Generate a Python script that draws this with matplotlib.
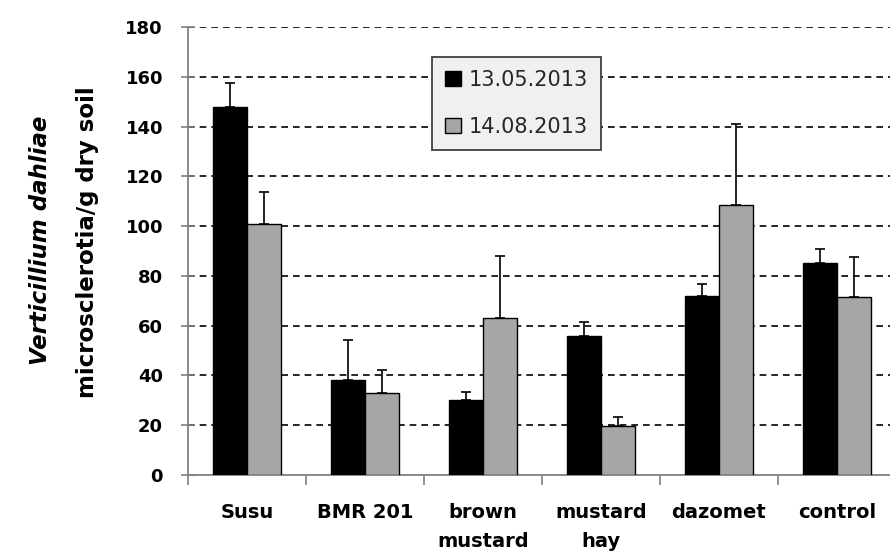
import numpy as np
import matplotlib.pyplot as plt
from matplotlib.patches import Patch

# soil sampling data: V. dahliae microsclerotia per g dry soil
treatments = ["Susu", "BMR 201", "brown\nmustard", "mustard\nhay", "dazomet", "control"]
may_2013 = [148, 38, 30, 56, 72, 85]
may_2013_err = [9.5, 16.3, 3.5, 5.4, 4.7, 6.0]
aug_2013 = [101, 33, 63, 19.5, 108.5, 71.5]
aug_2013_err = [12.5, 9.0, 24.8, 4.0, 32.5, 16.0]
series_labels = ["13.05.2013", "14.08.2013"]

plt.rcParams['font.family'] = ['DejaVu Sans']

fig = plt.figure(figsize=(8.9, 5.54), dpi=100)
ax = fig.add_axes([0.2112, 0.1426, 0.7955, 0.8087])

x = np.arange(len(treatments))
w = 0.29
ax.bar(x - w/2, may_2013, w, color='black', edgecolor='black', linewidth=1, zorder=3)
ax.bar(x + w/2, aug_2013, w, color='#a6a6a6', edgecolor='black', linewidth=1, zorder=3)
ax.errorbar(x - w/2, may_2013, yerr=[np.zeros(len(x)), may_2013_err], fmt='none',
            ecolor='black', elinewidth=1.2, capsize=3.5, capthick=1.2, zorder=4)
ax.errorbar(x + w/2, aug_2013, yerr=[np.zeros(len(x)), aug_2013_err], fmt='none',
            ecolor='black', elinewidth=1.2, capsize=3.5, capthick=1.2, zorder=4)

ax.set_xlim(-0.5, len(x) - 0.5)
ax.set_ylim(0, 180)
ax.set_yticks(np.arange(0, 181, 20))
for yv in np.arange(20, 181, 20):
    ax.axhline(yv, color='black', linestyle=(0, (4, 3)), linewidth=1.2, zorder=1)

# category labels centred, tick marks on the boundaries
ax.set_xticks(x)
ax.set_xticklabels(treatments, fontsize=14, fontweight='bold', linespacing=1.7)
ax.tick_params(axis='x', length=0, pad=20)
ax.set_xticks(np.arange(-0.5, len(x), 1), minor=True)
ax.tick_params(axis='x', which='minor', length=7, color='#808080', width=1.2)
ax.tick_params(axis='y', labelsize=13, length=10, color='#808080', width=1.2,
               direction='inout', pad=13)
for lab in ax.get_yticklabels():
    lab.set_fontweight('bold')

for s in ['top', 'right']:
    ax.spines[s].set_visible(False)
for s in ['left', 'bottom']:
    ax.spines[s].set_color('#808080')
    ax.spines[s].set_linewidth(1.3)

fig.text(0.045, 0.567, "Verticillium dahliae", rotation=90, ha='center', va='center',
         fontsize=16.5, fontweight='bold', fontstyle='italic')
fig.text(0.098, 0.563, "microsclerotia/g dry soil", rotation=90, ha='center', va='center',
         fontsize=16.5, fontweight='bold')

handles = [Patch(facecolor='black', edgecolor='black'),
           Patch(facecolor='#a6a6a6', edgecolor='black')]
leg = ax.legend(handles, series_labels, loc='upper left', bbox_to_anchor=(0.345, 0.933),
                fontsize=15, frameon=True, fancybox=False, labelspacing=1.3,
                handlelength=0.75, handleheight=0.75, handletextpad=0.4,
                borderpad=0.62, borderaxespad=0)
for t in leg.get_texts():
    t.set_color('#262626')
leg.get_frame().set_facecolor('#f0f0f0')
leg.get_frame().set_edgecolor('#404040')
leg.get_frame().set_linewidth(1.3)
leg.get_frame().set_alpha(1)
leg.set_zorder(5)

fig.savefig("out.png", dpi=100)
